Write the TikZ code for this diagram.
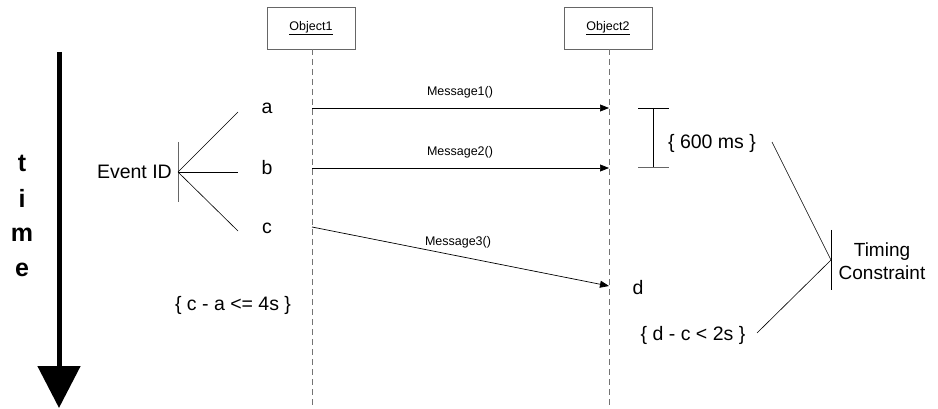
\documentclass[tikz,border=0pt]{standalone}
\usepackage{fontspec}
\setmainfont{Liberation Sans}
\usetikzlibrary{arrows.meta}
\begin{document}
\begin{tikzpicture}[x=1pt,y=-1pt,
  objbox/.style={draw=black!60, line width=0.8pt, minimum width=88pt, minimum height=42pt, inner sep=0pt, font=\fontsize{12.5}{14}\selectfont},
  lifeline/.style={draw=black!55, dashed, dash pattern=on 6pt off 4pt, line width=0.8pt},
  msg/.style={-{Triangle[length=9pt,width=7pt]}, line width=0.7pt},
  msglabel/.style={font=\fontsize{12.5}{14}\selectfont, inner sep=1pt},
  evlabel/.style={font=\fontsize{19.5}{22}\selectfont, inner sep=0pt},
  tletter/.style={font=\bfseries\fontsize{25}{28}\selectfont, inner sep=0pt},
  thin/.style={line width=0.6pt},
  bar/.style={line width=1pt, draw=black!60}]
\useasboundingbox (0,0) rectangle (938,409);

% objects and lifelines
\node[objbox] (o1) at (311,28) {\underline{Object1}};
\node[objbox] (o2) at (608,28) {\underline{Object2}};
\coordinate (l1top) at (312,49);
\coordinate (l1bot) at (312,407);
\coordinate (l2top) at (609,49);
\coordinate (l2bot) at (609,407);
\draw[lifeline] (l1top) -- (l1bot);
\draw[lifeline] (l2top) -- (l2bot);

% messages
\coordinate (m1s) at (312,108); \coordinate (m1e) at (609,108);
\coordinate (m2s) at (312,168); \coordinate (m2e) at (609,168);
\coordinate (m3s) at (312,227); \coordinate (m3e) at (609,286);
\draw[msg] (m1s) -- (m1e);
\draw[msg] (m2s) -- (m2e);
\draw[msg] (m3s) -- (m3e);
\node[msglabel] (ml1) at (460,92) {Message1()};
\node[msglabel] (ml2) at (460,152) {Message2()};
\node[msglabel] (ml3) at (458,242) {Message3()};

% time axis
\coordinate (tt) at (59,52);
\coordinate (tb) at (59,408);
\draw[line width=5pt, -{Triangle[length=42pt,width=42pt]}] (tt) -- (tb);
\node[tletter] (lt) at (22,163) {t};
\node[tletter] (li) at (22,198) {i};
\node[tletter] (lm) at (22,235) {m};
\node[tletter] (le) at (22,270) {e};

% event ids
\node[evlabel] (ea) at (267,108) {a};
\node[evlabel] (eb) at (267,168) {b};
\node[evlabel] (ec) at (267,228) {c};
\node[evlabel] (ed) at (638,288) {d};
\node[evlabel, anchor=east] (eid) at (172,172) {Event ID};
\coordinate (eidc) at (178,172);
\coordinate (eidt) at (178,142);
\coordinate (eidb) at (178,202);
\draw[bar] (eidt) -- (eidb);
\coordinate (pa) at (238,112);
\coordinate (pb) at (238,172);
\coordinate (pc) at (238,231);
\draw[thin] (eidc) -- (pa);
\draw[thin] (eidc) -- (pb);
\draw[thin] (eidc) -- (pc);

\node[evlabel] (cons1) at (233,305) {\{ c - a <= 4s \}};

% 600 ms bracket
\coordinate (bt) at (653,108); \coordinate (bb) at (653,168);
\coordinate (btl) at (638,108); \coordinate (btr) at (669,108);
\coordinate (bbl) at (638,168); \coordinate (bbr) at (669,168);
\draw[thin] (bt) -- (bb);
\draw[thin] (btl) -- (btr);
\draw[bar] (bbl) -- (bbr);
\node[evlabel] (c600) at (712,143) {\{ 600 ms \}};
\node[evlabel] (cdc) at (693,335) {\{ d - c < 2s \}};

% timing constraint callout
\coordinate (tcc) at (831,260);
\coordinate (tct) at (831,230);
\coordinate (tcb) at (831,290);
\draw[thin] (tct) -- (tcb);
\coordinate (q1) at (772,142);
\coordinate (q2) at (757,333);
\draw[thin] (q1) -- (tcc);
\draw[thin] (q2) -- (tcc);
\node[evlabel, align=center, font=\fontsize{19}{23}\selectfont] (tcl) at (882,261) {Timing\\Constraint};
\end{tikzpicture}
\end{document}
